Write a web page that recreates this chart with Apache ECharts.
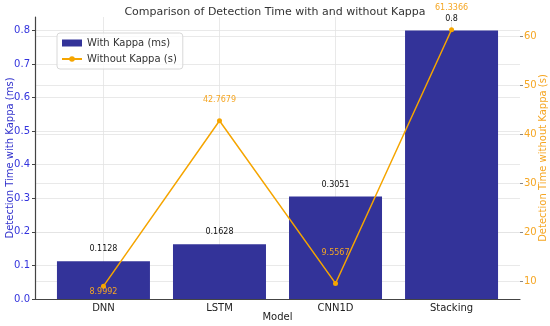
<!DOCTYPE html>
<html>
<head>
<meta charset="utf-8">
<script src="https://cdn.jsdelivr.net/npm/echarts@6/dist/echarts.min.js"></script>
<style>html,body{margin:0;padding:0;background:#fff}#c{width:550px;height:326px}</style>
</head>
<body>
<div id="c"></div>
<script>
var categories = ['DNN', 'LSTM', 'CNN1D', 'Stacking'];
var withKappa = [0.1128, 0.1628, 0.3051, 0.8];
var withoutKappa = [8.9992, 42.7679, 9.5567, 61.3366];
var leftTicks = [0, 0.1, 0.2, 0.3, 0.4, 0.5, 0.6, 0.7, 0.8];
var rightTicks = [10, 20, 30, 40, 50, 60];
var catIndex = [0, 1, 2, 3];

var lineLabelOffsets = [[0, 30], [0, 4], [0, -6], [0, 3]];

var chart = echarts.init(document.getElementById('c'), null, {renderer: 'canvas'});
var font = 'DejaVu Sans';
var gridColor = '#e3e3e3';
var option = {
  animation: false,
  textStyle: {fontFamily: font},
  title: {
    text: 'Comparison of Detection Time with and without Kappa',
    left: 'center', top: 2,
    textStyle: {fontSize: 11, fontWeight: 'normal', color: '#333', fontFamily: font}
  },
  legend: {
    left: 57, top: 33, orient: 'vertical',
    itemWidth: 20, itemHeight: 7, itemGap: 6,
    padding: [5, 6, 5, 4],
    borderColor: '#d8d8d8', borderWidth: 1, borderRadius: 3,
    backgroundColor: 'rgba(255,255,255,0.8)',
    textStyle: {fontSize: 10, color: '#333', fontFamily: font},
    data: [{name: 'With Kappa (ms)', icon: 'rect'}, {name: 'Without Kappa (s)'}]
  },
  grid: {left: 35, right: 30, top: 17, bottom: 27, containLabel: false, outerBoundsMode: 'none'},
  xAxis: {
    type: 'value', min: -0.59, max: 3.59,
    name: 'Model', nameLocation: 'middle', nameGap: 13, nameMoveOverlap: false,
    nameTextStyle: {fontSize: 10, color: '#222', fontFamily: font},
    axisLine: {show: true, onZero: false, lineStyle: {color: '#444', width: 1.2}},
    axisTick: {show: false, customValues: catIndex},
    axisLabel: {customValues: catIndex, fontSize: 10, color: '#222', margin: 4,
      formatter: function (v) { return categories[Math.round(v)] || ''; }},
    splitLine: {show: true, lineStyle: {color: gridColor, width: 0.8}}
  },
  yAxis: [{
    type: 'value', min: 0, max: 0.84, position: 'left',
    name: 'Detection Time with Kappa (ms)', nameLocation: 'middle', nameGap: 20, nameMoveOverlap: false,
    nameTextStyle: {fontSize: 10, color: '#3333cc', fontFamily: font},
    axisLine: {show: true, onZero: false, lineStyle: {color: '#444', width: 1.2}},
    axisTick: {show: true, length: 3, customValues: leftTicks, lineStyle: {color: '#444'}},
    axisLabel: {customValues: leftTicks, fontSize: 10, color: '#3333dd', margin: 5,
      formatter: function (v) { return v.toFixed(1); }},
    splitLine: {show: true, lineStyle: {color: gridColor, width: 0.8}}
  }, {
    type: 'value', min: 6.38, max: 63.95, position: 'right',
    name: 'Detection Time without Kappa (s)', nameLocation: 'middle', nameGap: 18, nameMoveOverlap: false,
    nameTextStyle: {fontSize: 10, color: '#f5a623', fontFamily: font},
    axisLine: {show: false, onZero: false},
    axisTick: {show: true, length: 3, customValues: rightTicks, lineStyle: {color: '#888'}},
    axisLabel: {customValues: rightTicks, fontSize: 10, color: '#f5a623', margin: 4},
    splitLine: {show: true, lineStyle: {color: gridColor, width: 0.8}}
  }],
  series: [{
    name: 'With Kappa (ms)', type: 'bar', yAxisIndex: 0,
    barWidth: 93,
    itemStyle: {color: '#333399'},
    label: {show: true, position: 'top', distance: 8, fontSize: 8, color: '#111',
      formatter: function (p) { return String(withKappa[p.dataIndex]); }},
    data: catIndex.map(function (i) { return [i, withKappa[i]]; })
  }, {
    name: 'Without Kappa (s)', type: 'line', yAxisIndex: 1,
    symbol: 'circle', symbolSize: 5,
    itemStyle: {color: '#f5a500'},
    lineStyle: {color: '#f5a500', width: 1.5},
    data: catIndex.map(function (i) {
      return {value: [i, withoutKappa[i]],
        label: {show: true, position: 'top', distance: 18, offset: lineLabelOffsets[i], fontSize: 8, color: '#f5a623',
          formatter: String(withoutKappa[i])}};
    })
  }]
};
chart.setOption(option);
</script>
</body>
</html>
